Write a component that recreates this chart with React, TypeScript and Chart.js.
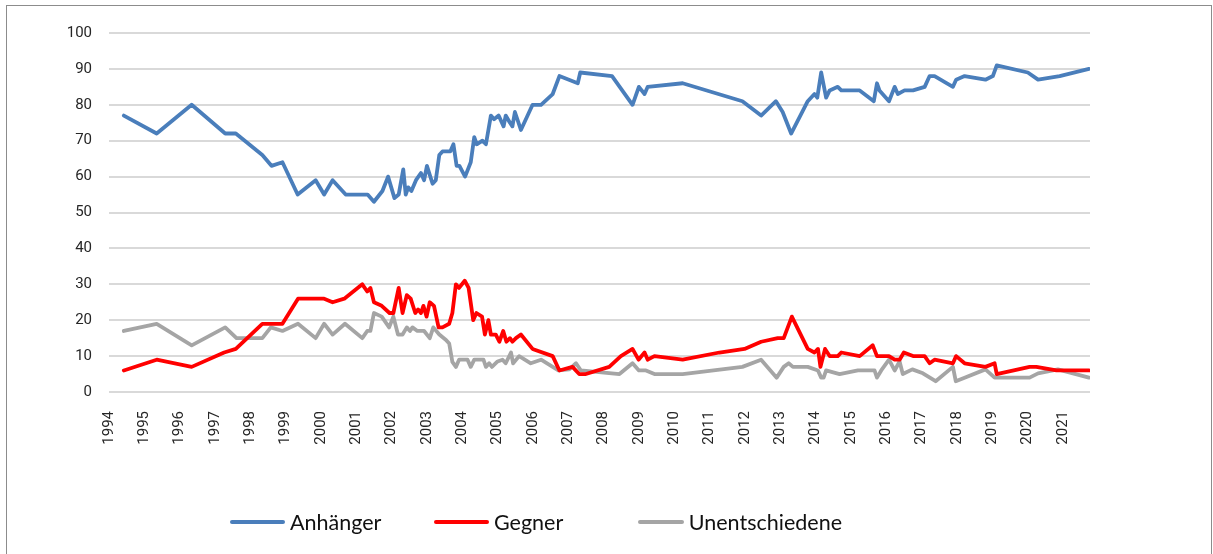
import React, { useEffect, useRef } from "react";
import { Chart, registerables } from "chart.js";

Chart.register(...registerables);

const yTicks = [0, 10, 20, 30, 40, 50, 60, 70, 80, 90, 100];
const seriesNames = ["Anhänger", "Gegner", "Unentschiedene"];
const seriesColors = ["#4a7ebb", "#ff0000", "#a5a5a5"];

const anhDates = [
  1994.42, 1995.35, 1996.34, 1997.29, 1997.59, 1998.34, 1998.6, 1998.91, 1999.34, 1999.85,
  2000.09, 2000.33, 2000.7, 2001.32, 2001.5, 2001.74, 2001.9, 2002.08, 2002.2, 2002.33,
  2002.4, 2002.47, 2002.56, 2002.69, 2002.83, 2002.92, 2003.0, 2003.16, 2003.25, 2003.35,
  2003.44, 2003.66, 2003.75, 2003.84, 2003.92, 2004.08, 2004.24, 2004.34, 2004.41, 2004.57,
  2004.67, 2004.81, 2004.9, 2005.03, 2005.17, 2005.23, 2005.35, 2005.42, 2005.49, 2005.66,
  2005.99, 2006.23, 2006.56, 2006.75, 2007.27, 2007.34, 2008.24, 2008.82, 2009.0, 2009.16,
  2009.25, 2010.24, 2011.93, 2012.46, 2012.88, 2013.07, 2013.31, 2013.78, 2013.97, 2014.05,
  2014.16, 2014.3, 2014.4, 2014.63, 2014.73, 2015.25, 2015.65, 2015.74, 2015.81, 2016.08,
  2016.24, 2016.33, 2016.52, 2016.76, 2017.09, 2017.23, 2017.37, 2017.89, 2017.98, 2018.22,
  2018.81, 2019.02, 2019.13, 2020.01, 2020.3, 2020.91, 2021.74,
];
const anhValues = [
  77, 72, 80, 72, 72, 66, 63, 64, 55, 59,
  55, 59, 55, 55, 53, 56, 60, 54, 55, 62,
  55, 57, 56, 59, 61, 59, 63, 58, 59, 66,
  67, 67, 69, 63, 63, 60, 64, 71, 69, 70,
  69, 77, 76, 77, 74, 77, 75, 74, 78, 73,
  80, 80, 83, 88, 86, 89, 88, 80, 85, 83,
  85, 86, 81, 77, 81, 78, 72, 81, 83, 82,
  89, 82, 84, 85, 84, 84, 81, 86, 84, 81,
  85, 83, 84, 84, 85, 88, 88, 85, 87, 88,
  87, 88, 91, 89, 87, 88, 90,
];

const gegDates = [
  1994.42, 1995.35, 1996.34, 1997.26, 1997.59, 1998.34, 1998.91, 1999.35, 2000.09, 2000.33,
  2000.66, 2001.17, 2001.31, 2001.4, 2001.5, 2001.72, 2001.94, 2002.05, 2002.2, 2002.31,
  2002.43, 2002.54, 2002.67, 2002.75, 2002.83, 2002.9, 2002.99, 2003.08, 2003.2, 2003.33,
  2003.44, 2003.63, 2003.72, 2003.82, 2003.91, 2004.07, 2004.18, 2004.31, 2004.4, 2004.56,
  2004.64, 2004.74, 2004.81, 2004.95, 2005.05, 2005.16, 2005.25, 2005.35, 2005.42, 2005.52,
  2005.66, 2005.99, 2006.56, 2006.75, 2007.12, 2007.31, 2007.5, 2008.16, 2008.49, 2008.82,
  2008.99, 2009.16, 2009.25, 2009.44, 2010.24, 2011.28, 2011.99, 2012.46, 2012.93, 2013.1,
  2013.33, 2013.78, 2013.97, 2014.07, 2014.14, 2014.27, 2014.4, 2014.63, 2014.73, 2015.25,
  2015.62, 2015.74, 2016.08, 2016.24, 2016.38, 2016.5, 2016.76, 2017.09, 2017.23, 2017.37,
  2017.89, 2017.98, 2018.22, 2018.81, 2019.07, 2019.13, 2020.06, 2020.25, 2020.82, 2021.74,
];
const gegValues = [
  6, 9, 7, 11, 12, 19, 19, 26, 26, 25,
  26, 30, 28, 29, 25, 24, 22, 22, 29, 22,
  27, 26, 22, 23, 22, 24, 21, 25, 24, 18,
  18, 19, 22, 30, 29, 31, 29, 20, 22, 21,
  16, 20, 16, 16, 14, 17, 14, 15, 14, 15,
  16, 12, 10, 6, 7, 5, 5, 7, 10, 12,
  9, 11, 9, 10, 9, 11, 12, 14, 15, 15,
  21, 12, 11, 12, 7, 12, 10, 10, 11, 10,
  13, 10, 10, 9, 9, 11, 10, 10, 8, 9,
  8, 10, 8, 7, 8, 5, 7, 7, 6, 6,
];

const unDates = [
  1994.42, 1995.35, 1996.34, 1997.29, 1997.61, 1998.34, 1998.58, 1998.91, 1999.35, 1999.85,
  2000.09, 2000.33, 2000.68, 2001.17, 2001.31, 2001.4, 2001.5, 2001.72, 2001.93, 2002.05,
  2002.18, 2002.31, 2002.43, 2002.52, 2002.59, 2002.73, 2002.92, 2003.08, 2003.18, 2003.35,
  2003.54, 2003.63, 2003.72, 2003.82, 2003.91, 2004.15, 2004.24, 2004.34, 2004.6, 2004.67,
  2004.76, 2004.84, 2005.0, 2005.14, 2005.23, 2005.38, 2005.44, 2005.61, 2005.94, 2006.23,
  2006.72, 2007.03, 2007.22, 2007.36, 2008.45, 2008.82, 2009.0, 2009.2, 2009.44, 2010.24,
  2011.93, 2012.46, 2012.9, 2013.1, 2013.24, 2013.36, 2013.78, 2014.07, 2014.16, 2014.23,
  2014.3, 2014.68, 2015.2, 2015.67, 2015.74, 2015.86, 2016.08, 2016.24, 2016.38, 2016.47,
  2016.74, 2017.04, 2017.4, 2017.89, 2017.97, 2018.22, 2018.81, 2019.07, 2020.06, 2020.3,
  2020.86, 2021.74,
];
const unValues = [
  17, 19, 13, 18, 15, 15, 18, 17, 19, 15,
  19, 16, 19, 15, 17, 17, 22, 21, 18, 21,
  16, 16, 18, 17, 18, 17, 17, 15, 18, 16,
  14.5, 13.5, 8.4, 7, 9, 9, 7, 9, 9, 7,
  8, 7, 8.5, 9, 8, 11, 8, 10, 8, 9,
  6, 6.3, 8, 6, 5, 8, 6, 6, 5, 5,
  7, 9, 4, 7, 8, 7, 7, 6, 4, 4,
  6, 5, 6, 6, 4, 6, 9, 6, 8.5, 5,
  6.3, 5.2, 3, 7, 3, 4, 6.3, 4, 4, 5.2,
  6.3, 4,
];

const xMin = 1994;
const xMax = 2021.77;

function toPoints(dates: number[], values: number[]) {
  return dates.map((d, i) => ({ x: d, y: values[i] }));
}

export default function App() {
  const canvasRef = useRef<HTMLCanvasElement | null>(null);

  useEffect(() => {
    if (!canvasRef.current) return;
    const series = [
      toPoints(anhDates, anhValues),
      toPoints(gegDates, gegValues),
      toPoints(unDates, unValues),
    ];
    const chart = new Chart(canvasRef.current, {
      type: "line",
      data: {
        datasets: series.map((pts, i) => ({
          label: seriesNames[i],
          data: pts,
          borderColor: seriesColors[i],
          backgroundColor: seriesColors[i],
          borderWidth: 3.8,
          pointRadius: 0,
          tension: 0,
          borderJoinStyle: "round" as const,
          borderCapStyle: "round" as const,
        })),
      },
      options: {
        animation: false,
        responsive: false,
        parsing: false,
        layout: { padding: { left: 0, right: 123, top: 33, bottom: 100 } },
        plugins: {
          legend: { display: false },
          tooltip: { enabled: false },
        },
        scales: {
          x: {
            type: "linear",
            min: xMin,
            max: xMax,
            grid: { display: false },
            border: { display: false },
            afterFit: (scale: any) => {
              scale.height = 62;
            },
            ticks: {
              stepSize: 1,
              includeBounds: false,
              autoSkip: false,
              maxRotation: 90,
              minRotation: 90,
              padding: 11,
              color: "#262626",
              font: { family: "Roboto", size: 15 },
              callback: (v: any) => String(Math.round(Number(v))),
            },
          },
          y: {
            type: "linear",
            min: 0,
            max: 100,
            afterFit: (scale: any) => {
              scale.width = 109;
            },
            afterBuildTicks: (scale: any) => {
              scale.ticks = yTicks.map((v) => ({ value: v }));
            },
            grid: { color: "#d9d9d9", lineWidth: 2, drawTicks: false },
            border: { display: false },
            ticks: {
              padding: 17,
              color: "#262626",
              font: { family: "Roboto", size: 15 },
            },
          },
        },
      },
    });
    return () => chart.destroy();
  }, []);

  const legendItemWidth = 204;
  return (
    <div>
      <div
        style={{
          position: "absolute",
          left: 6,
          top: 5,
          width: 1206,
          height: 600,
          border: "1px solid #8c8c8c",
          boxSizing: "border-box",
        }}
      />
      <canvas
        ref={canvasRef}
        width={1213}
        height={554}
        style={{ position: "absolute", left: 0, top: 0, width: 1213, height: 554 }}
      />
      <div
        style={{
          position: "absolute",
          left: 230,
          top: 508,
          display: "flex",
          fontFamily: "Lato, sans-serif",
          fontSize: 21.5,
          color: "#111111",
        }}
      >
        {seriesNames.map((n, i) => (
          <div
            key={n}
            style={{ width: legendItemWidth, display: "flex", alignItems: "center", height: 28 }}
          >
            <span
              style={{
                display: "inline-block",
                width: 55,
                height: 4,
                borderRadius: 2,
                background: seriesColors[i],
                marginRight: 5,
              }}
            />
            <span>{n}</span>
          </div>
        ))}
      </div>
    </div>
  );
}
